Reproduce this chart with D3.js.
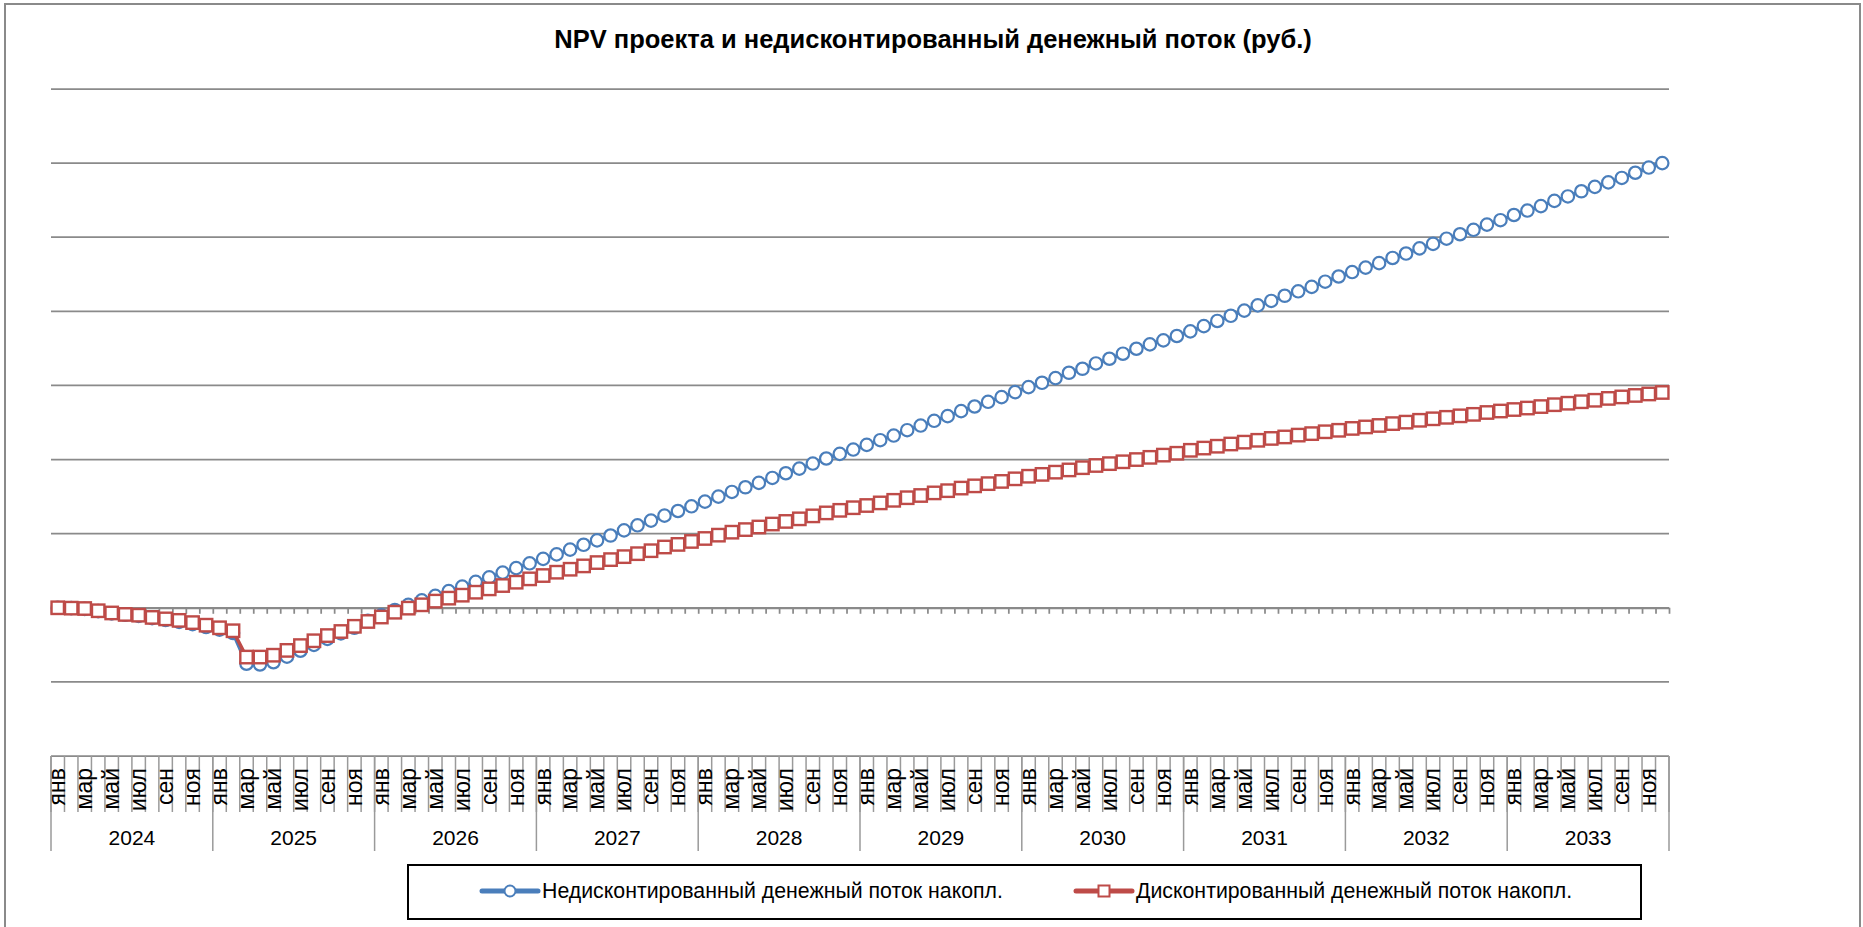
<!DOCTYPE html>
<html>
<head>
<meta charset="utf-8">
<title>NPV проекта</title>
<style>
body { margin: 0; background: #fff; }
svg { display: block; }
text { font-family: "Liberation Sans", Arial, sans-serif; fill: #000; }
.grid line { stroke: #8a8a8a; stroke-width: 1.75px; }
.axis path, .axis line { stroke: #8a8a8a; stroke-width: 1.75px; }
.table line { stroke: #9a9a9a; stroke-width: 1.5px; }
</style>
</head>
<body>
<script src="https://cdn.jsdelivr.net/npm/d3@7"></script>
<script>

// month / year categories
var monthNames = ["янв","фев","мар","апр","май","июн","июл","авг","сен","окт","ноя","дек"];
var years = [2024, 2025, 2026, 2027, 2028, 2029, 2030, 2031, 2032, 2033];

// cumulative cash flow, mln rub, one value per month (jan 2024 .. dec 2033)
var undiscounted = [
  0.00, -0.005, -0.015, -0.045, -0.075, -0.095, -0.11, -0.14, -0.165, -0.19, -0.22, -0.26,
  -0.295, -0.34, -0.755, -0.765, -0.735, -0.66, -0.58, -0.50, -0.42, -0.345, -0.27, -0.175,
  -0.10, -0.03, 0.04, 0.10, 0.16, 0.225, 0.285, 0.35, 0.41, 0.475, 0.535, 0.60,
  0.66, 0.72, 0.785, 0.85, 0.91, 0.975, 1.045, 1.113, 1.176, 1.243, 1.306, 1.369,
  1.432, 1.50, 1.563, 1.626, 1.685, 1.752, 1.815, 1.878, 1.946, 2.014, 2.077, 2.135,
  2.198, 2.261, 2.324, 2.396, 2.459, 2.523, 2.586, 2.653, 2.716, 2.779, 2.842, 2.910,
  2.977, 3.036, 3.099, 3.171, 3.225, 3.297, 3.36, 3.428, 3.495, 3.554, 3.608, 3.667,
  3.73, 3.80, 3.87, 3.94, 4.01, 4.08, 4.14, 4.21, 4.27, 4.33, 4.40, 4.47,
  4.53, 4.59, 4.65, 4.72, 4.78, 4.85, 4.91, 4.98, 5.04, 5.10, 5.17, 5.23,
  5.30, 5.36, 5.42, 5.49, 5.55, 5.62, 5.68, 5.74, 5.80, 5.87, 5.94, 6.00
];

var discounted = [
  0.00, -0.005, -0.01, -0.04, -0.07, -0.09, -0.10, -0.13, -0.15, -0.17, -0.20, -0.235,
  -0.27, -0.31, -0.665, -0.665, -0.64, -0.575, -0.51, -0.445, -0.375, -0.32, -0.25, -0.185,
  -0.125, -0.06, -0.005, 0.04, 0.09, 0.13, 0.17, 0.21, 0.255, 0.30, 0.345, 0.39,
  0.435, 0.48, 0.52, 0.565, 0.61, 0.65, 0.69, 0.73, 0.77, 0.82, 0.855, 0.895,
  0.935, 0.98, 1.02, 1.055, 1.09, 1.13, 1.165, 1.20, 1.24, 1.28, 1.315, 1.35,
  1.38, 1.415, 1.45, 1.485, 1.515, 1.55, 1.58, 1.615, 1.645, 1.675, 1.705, 1.74,
  1.775, 1.80, 1.83, 1.86, 1.89, 1.92, 1.945, 1.97, 2.00, 2.03, 2.06, 2.085,
  2.125, 2.155, 2.18, 2.21, 2.235, 2.26, 2.285, 2.305, 2.33, 2.35, 2.375, 2.395,
  2.42, 2.44, 2.46, 2.485, 2.505, 2.53, 2.55, 2.57, 2.59, 2.61, 2.635, 2.655,
  2.675, 2.695, 2.715, 2.74, 2.76, 2.78, 2.80, 2.825, 2.845, 2.865, 2.885, 2.905
];

var yTicks = [-2, -1, 0, 1, 2, 3, 4, 5, 6, 7];

var seriesNames = ["Недисконтированный денежный поток накопл.", "Дисконтированный денежный поток накопл."];
var titleText = "NPV проекта и недисконтированный денежный поток (руб.)";

var width = 1863,
    height = 927;

var nMonths = years.length * 12;

var x = d3.scaleLinear().domain([0, nMonths]).range([51, 1669]);
var y = d3.scaleLinear().domain([-2, 7]).range([756, 89]);

var svg = d3.select("body").append("svg")
    .attr("width", width)
    .attr("height", height);

// chart border
svg.append("rect")
    .attr("x", 5).attr("y", 4)
    .attr("width", 1855).attr("height", 1000)
    .attr("fill", "#fff")
    .attr("stroke", "#8a8a8a")
    .attr("stroke-width", 2);

svg.append("text")
    .attr("x", 933)
    .attr("y", 48)
    .attr("text-anchor", "middle")
    .style("font-size", "25.5px")
    .style("font-weight", "bold")
    .text(titleText);

// horizontal gridlines
svg.append("g")
    .attr("class", "grid")
    .selectAll("line")
    .data(yTicks)
    .enter().append("line")
    .attr("x1", x(0)).attr("x2", x(nMonths))
    .attr("y1", function(d) { return y(d); })
    .attr("y2", function(d) { return y(d); });

// zero axis with month ticks
svg.append("g")
    .attr("class", "axis")
    .attr("transform", "translate(0," + y(0) + ")")
    .call(d3.axisBottom(x)
        .tickValues(d3.range(nMonths + 1))
        .tickSize(6)
        .tickSizeOuter(0)
        .tickFormat(""));

// category label table below the plot
var table = svg.append("g").attr("class", "table");
var tableTop = y(-2);

table.selectAll(".msep")
    .data(d3.range(nMonths + 1))
    .enter().append("line")
    .attr("class", "msep")
    .attr("x1", function(d) { return x(d); })
    .attr("x2", function(d) { return x(d); })
    .attr("y1", tableTop)
    .attr("y2", tableTop + 56);

table.selectAll(".ysep")
    .data(d3.range(years.length + 1))
    .enter().append("line")
    .attr("class", "ysep")
    .attr("x1", function(d) { return x(d * 12); })
    .attr("x2", function(d) { return x(d * 12); })
    .attr("y1", tableTop)
    .attr("y2", tableTop + 95);

var monthLabels = [];
years.forEach(function(yr, yi) {
  monthNames.forEach(function(m, mi) {
    if (mi % 2 == 0) monthLabels.push({ i: yi * 12 + mi, name: m });
  });
});

table.selectAll(".mlabel")
    .data(monthLabels)
    .enter().append("text")
    .attr("class", "mlabel")
    .attr("transform", function(d) {
        return "translate(" + x(d.i + 0.5) + "," + (tableTop + 12) + ") rotate(-90)";
    })
    .attr("dy", "0.32em")
    .attr("text-anchor", "end")
    .style("font-size", "23px")
    .text(function(d) { return d.name; });

table.selectAll(".ylabel")
    .data(years)
    .enter().append("text")
    .attr("class", "ylabel")
    .attr("x", function(d, i) { return x(i * 12 + 6); })
    .attr("y", tableTop + 89)
    .attr("text-anchor", "middle")
    .style("font-size", "21px")
    .text(function(d) { return d; });

// series
var series = [
  { name: seriesNames[0], values: undiscounted, color: "#4a7ebb", marker: "circle" },
  { name: seriesNames[1], values: discounted, color: "#be4b48", marker: "square" }
];

var line = d3.line()
    .x(function(d, i) { return x(i + 0.5); })
    .y(function(d) { return y(d); });

series.forEach(function(s) {
  var g = svg.append("g");
  g.append("path")
      .datum(s.values)
      .attr("fill", "none")
      .attr("stroke", s.color)
      .attr("stroke-width", 3.5)
      .attr("d", line);

  if (s.marker == "circle") {
    g.selectAll("circle")
        .data(s.values)
        .enter().append("circle")
        .attr("cx", function(d, i) { return x(i + 0.5); })
        .attr("cy", function(d) { return y(d); })
        .attr("r", 6.2)
        .attr("fill", "#fff")
        .attr("stroke", s.color)
        .attr("stroke-width", 2.2);
  } else {
    g.selectAll("rect")
        .data(s.values)
        .enter().append("rect")
        .attr("x", function(d, i) { return x(i + 0.5) - 6.2; })
        .attr("y", function(d) { return y(d) - 6.2; })
        .attr("width", 12.4)
        .attr("height", 12.4)
        .attr("fill", "#fff")
        .attr("stroke", s.color)
        .attr("stroke-width", 2.4);
  }
});

// legend
var legend = svg.append("g");
legend.append("rect")
    .attr("x", 408).attr("y", 865)
    .attr("width", 1233).attr("height", 54)
    .attr("fill", "#fff")
    .attr("stroke", "#000")
    .attr("stroke-width", 2);

var legendItems = [
  { s: series[0], x0: 482 },
  { s: series[1], x0: 1076 }
];

legendItems.forEach(function(it) {
  var cy = 891;
  legend.append("line")
      .attr("x1", it.x0).attr("x2", it.x0 + 56)
      .attr("y1", cy).attr("y2", cy)
      .attr("stroke", it.s.color)
      .attr("stroke-width", 5)
      .attr("stroke-linecap", "round");
  if (it.s.marker == "circle") {
    legend.append("circle")
        .attr("cx", it.x0 + 28).attr("cy", cy).attr("r", 5.5)
        .attr("fill", "#fff").attr("stroke", it.s.color).attr("stroke-width", 2);
  } else {
    legend.append("rect")
        .attr("x", it.x0 + 22.5).attr("y", cy - 5.5)
        .attr("width", 11).attr("height", 11)
        .attr("fill", "#fff").attr("stroke", it.s.color).attr("stroke-width", 2);
  }
  legend.append("text")
      .attr("x", it.x0 + 60)
      .attr("y", cy + 7)
      .style("font-size", "21.3px")
      .text(it.s.name);
});

</script>
</body>
</html>
